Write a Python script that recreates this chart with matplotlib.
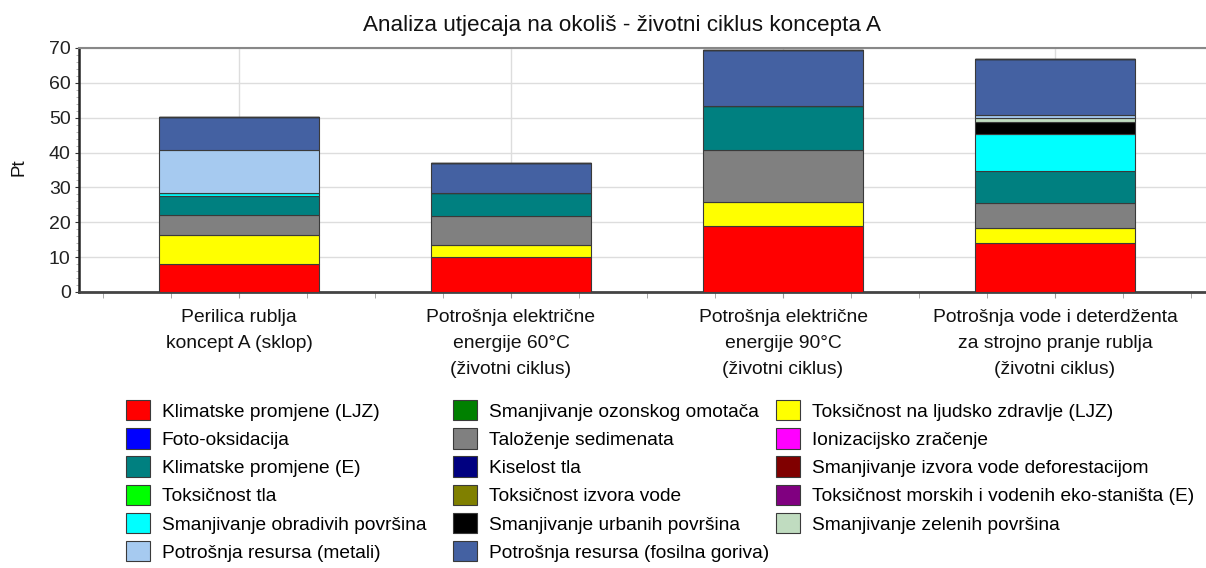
import matplotlib
matplotlib.use("Agg")
import matplotlib.pyplot as plt
from matplotlib.ticker import MultipleLocator
import numpy as np

plt.rcParams['font.family'] = ['Liberation Sans', 'DejaVu Sans']

categories = [
    "Perilica rublja\nkoncept A (sklop)",
    "Potrošnja električne\nenergije 60°C\n(životni ciklus)",
    "Potrošnja električne\nenergije 90°C\n(životni ciklus)",
    "Potrošnja vode i deterdženta\nza strojno pranje rublja\n(životni ciklus)",
]

# impact categories in legend order, with colours
impact_names = [
    "Klimatske promjene (LJZ)",
    "Foto-oksidacija",
    "Klimatske promjene (E)",
    "Toksičnost tla",
    "Smanjivanje obradivih površina",
    "Potrošnja resursa (metali)",
    "Smanjivanje ozonskog omotača",
    "Taloženje sedimenata",
    "Kiselost tla",
    "Toksičnost izvora vode",
    "Smanjivanje urbanih površina",
    "Potrošnja resursa (fosilna goriva)",
    "Toksičnost na ljudsko zdravlje (LJZ)",
    "Ionizacijsko zračenje",
    "Smanjivanje izvora vode deforestacijom",
    "Toksičnost morskih i vodenih eko-staništa (E)",
    "Smanjivanje zelenih površina",
]
impact_colors = [
    "#ff0000", "#0000ff", "#008080", "#00ff00", "#00ffff", "#a6caf0",
    "#008000", "#808080", "#000080", "#808000", "#000000", "#4461a2",
    "#ffff00", "#ff00ff", "#800000", "#800080", "#c0dcc0",
]

# values (Pt) per impact category, one entry per product stage
klimatske_ljz = [8.0, 10.1, 18.8, 14.1]
foto_oksidacija = [0, 0, 0, 0]
klimatske_e = [5.2, 6.7, 12.7, 9.1]
toksicnost_tla = [0, 0, 0, 0]
obradive_povrsine = [1.0, 0, 0, 10.8]
resursi_metali = [12.3, 0, 0, 1.0]
ozonski_omotac = [0, 0, 0, 0]
talozenje = [5.8, 8.3, 15.0, 7.1]
kiselost_tla = [0, 0, 0, 0]
toksicnost_vode = [0, 0, 0, 0]
urbane_povrsine = [0, 0, 0, 3.5]
resursi_fosilna = [9.5, 8.5, 16.0, 16.1]
toksicnost_ljz = [8.4, 3.4, 6.9, 4.3]
ionizacija = [0, 0, 0, 0]
deforestacija = [0, 0, 0, 0]
toksicnost_morska = [0, 0, 0, 0]
zelene_povrsine = [0, 0, 0, 0.9]

series = [
    klimatske_ljz, foto_oksidacija, klimatske_e, toksicnost_tla,
    obradive_povrsine, resursi_metali, ozonski_omotac, talozenje,
    kiselost_tla, toksicnost_vode, urbane_povrsine, resursi_fosilna,
    toksicnost_ljz, ionizacija, deforestacija, toksicnost_morska,
    zelene_povrsine,
]

# stacking order from the bottom of each bar
stack_order = [0, 12, 7, 2, 4, 10, 16, 5, 11, 1, 3, 6, 8, 9, 13, 14, 15]

W, H = 1206, 568
fig = plt.figure(figsize=(W / 100, H / 100), dpi=100)
ax = fig.add_axes([79 / W, 1 - 292 / H, 1 - 79 / W, 244 / H])

x = np.arange(len(categories))
bottom = np.zeros(len(categories))
handles = {}
for i in stack_order:
    vals = np.array(series[i], dtype=float)
    h = ax.bar(x, vals, 0.588, bottom=bottom, color=impact_colors[i],
               edgecolor="#3a3a3a", linewidth=0.8, label=impact_names[i],
               zorder=3)
    handles[i] = h
    bottom += vals

ax.set_xlim(-0.588, 3.555)
ax.set_ylim(0, 70)
ax.yaxis.set_major_locator(MultipleLocator(10))
ax.yaxis.set_minor_locator(MultipleLocator(2))
ax.set_xticks(x)
ax.set_xticklabels(categories, fontsize=13.9, color="#111111", linespacing=1.7)
ax.xaxis.set_minor_locator(MultipleLocator(0.25))
ax.tick_params(axis="x", which="both", length=4, color="#999999", pad=8)
ax.tick_params(axis="y", which="major", length=3, labelsize=14, pad=3,
               color="#333333", labelcolor="#222222")
ax.tick_params(axis="y", which="minor", length=2, color="#aaaaaa")

ax.grid(True, axis="both", which="major", color="#dddddd", linewidth=1, zorder=0)
ax.set_axisbelow(True)
ax.spines["right"].set_visible(False)
ax.spines["top"].set_color("#888888")
ax.spines["top"].set_linewidth(1.5)
ax.spines["left"].set_color("#222222")
ax.spines["left"].set_linewidth(1.8)
ax.spines["bottom"].set_color("#444444")
ax.spines["bottom"].set_linewidth(2)

fig.text(622 / W, 1 - 31 / H, "Analiza utjecaja na okoliš - životni ciklus koncepta A",
         ha="center", va="baseline", fontsize=16.2, color="#111111")
fig.text(19 / W, 1 - 167 / H, "Pt", rotation=90, ha="center", va="center",
         fontsize=13.5, color="#111111")

# legend split into three columns placed side by side
col_left = [126, 453, 776]
col_items = [range(0, 6), range(6, 12), range(12, 17)]
for left, items in zip(col_left, col_items):
    fig.legend([handles[i] for i in items], [impact_names[i] for i in items],
               loc="upper left", bbox_to_anchor=(left / W, 1 - 400 / H),
               frameon=False, fontsize=13.8, handlelength=1.27,
               handleheight=1.25, handletextpad=0.6, labelspacing=0.4,
               borderpad=0, borderaxespad=0)

fig.savefig("out.png", dpi=100)
